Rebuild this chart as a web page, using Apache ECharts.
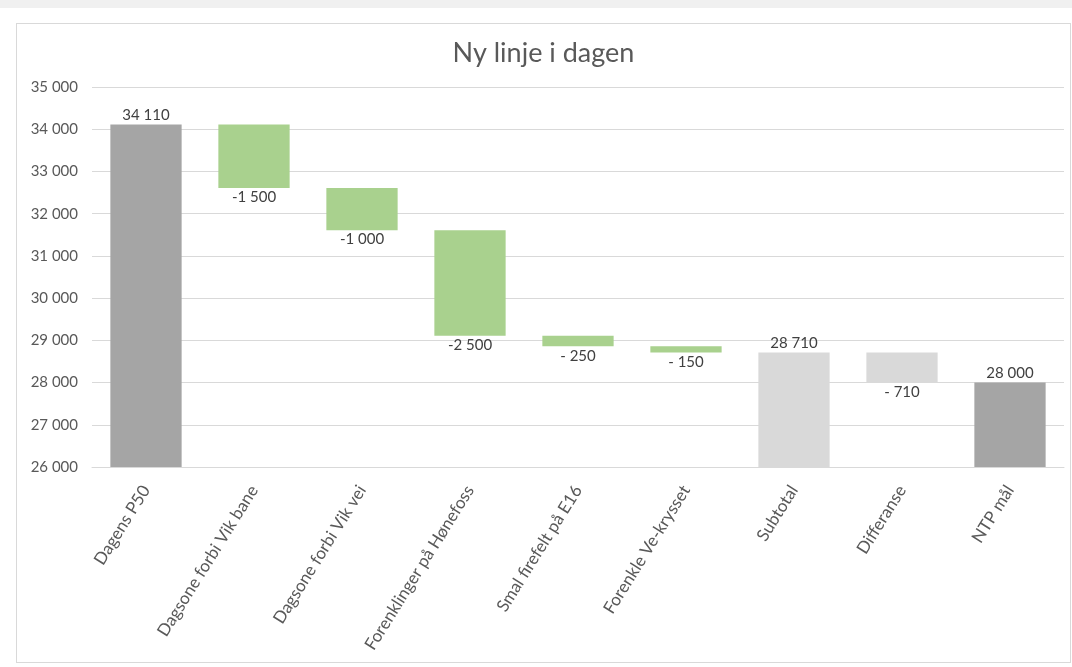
<!DOCTYPE html>
<html>
<head>
<meta charset="utf-8">
<script src="https://cdn.jsdelivr.net/npm/echarts@6/dist/echarts.min.js"></script>
<style>
html,body{margin:0;padding:0;background:#fff;width:1072px;height:667px;overflow:hidden;}
#strip{position:absolute;left:0;top:0;width:1072px;height:8px;background:#f0f0f0;}
#box{position:absolute;left:16px;top:23px;width:1053px;height:638px;border:1px solid #d9d9d9;background:#fff;}
#chart{position:absolute;left:0;top:0;width:1053px;height:638px;}
</style>
</head>
<body>
<div id="strip"></div>
<div id="box"><div id="chart"></div></div>
<script>
const categories = ["Dagens P50","Dagsone forbi Vik bane","Dagsone forbi Vik vei","Forenklinger på Hønefoss","Smal firefelt på E16","Forenkle Ve-krysset","Subtotal","Differanse","NTP mål"];
const values = [34110, -1500, -1000, -2500, -250, -150, 28710, -710, 28000];
const kinds = ["total","delta","delta","delta","delta","delta","subtotal","diff","total"];
const labelTexts = ["34 110","-1 500","-1 000","-2 500","- 250","- 150","28 710","- 710","28 000"];
const yTicks = [26000,27000,28000,29000,30000,31000,32000,33000,34000,35000];

const colorOf = {total:"#a5a5a5", delta:"#a9d18e", subtotal:"#d9d9d9", diff:"#d9d9d9"};

let running = 0;
const baseData = [], barData = [];
values.forEach((v, i) => {
  const k = kinds[i];
  if (k === "total" || k === "subtotal") {
    running = v;
    baseData.push(0);
    barData.push({value: v, itemStyle:{color:colorOf[k]}, label:{position:"top", formatter: labelTexts[i]}});
  } else {
    const top = running, bottom = running + v;
    running = bottom;
    baseData.push(bottom);
    barData.push({value: top - bottom, itemStyle:{color:colorOf[k]}, label:{position:"bottom", formatter: labelTexts[i]}});
  }
});

const chart = echarts.init(document.getElementById('chart'));
chart.setOption({
  animation:false,
  title:{text:"Ny linje i dagen", left:"center", top:11, textStyle:{fontFamily:"Lato", fontSize:27, fontWeight:"normal", color:"#595959"}},
  grid:{left:75, right:6, top:63, bottom:195},
  xAxis:{type:"category", data:categories,
    axisLine:{show:true, lineStyle:{color:"#d9d9d9"}}, axisTick:{show:false},
    axisLabel:{rotate:58, interval:0, color:"#595959", fontFamily:"Lato", fontSize:17, margin:20}},
  yAxis:{type:"value", min:yTicks[0], max:yTicks[yTicks.length-1], interval:1000,
    axisLine:{show:false}, axisTick:{show:false},
    splitLine:{lineStyle:{color:"#d9d9d9"}},
    axisLabel:{color:"#595959", fontFamily:"Lato", fontSize:15, margin:14,
      formatter: v => String(v).replace(/\B(?=(\d{3})+(?!\d))/g, " ")}},
  series:[
    {type:"bar", stack:"w", data:baseData, itemStyle:{color:"transparent"}, silent:true, barCategoryGap:"34%"},
    {type:"bar", stack:"w", data:barData, barCategoryGap:"34%",
      label:{show:true, color:"#404040", fontFamily:"Lato", fontSize:15, distance:2}}
  ]
});
</script>
</body>
</html>
